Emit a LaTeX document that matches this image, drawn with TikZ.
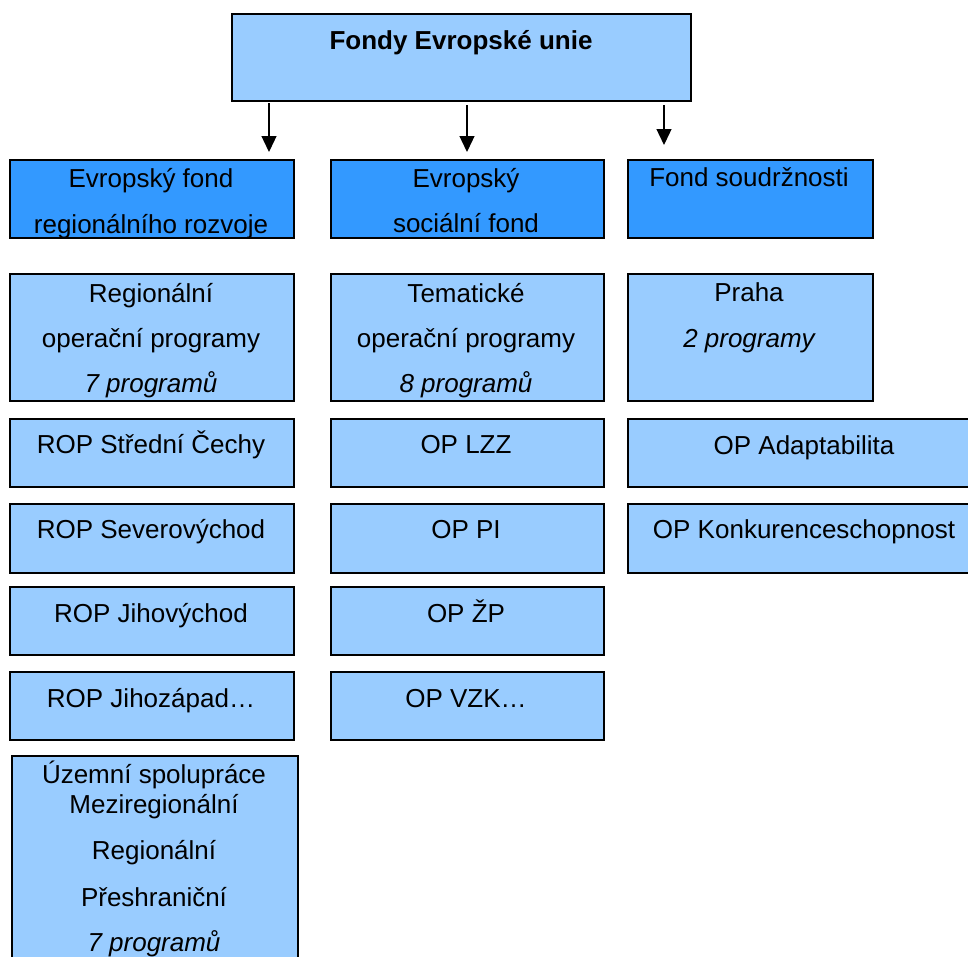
\documentclass[tikz,border=0pt]{standalone}
\usepackage{fontspec}
\setmainfont{Liberation Sans}
\usetikzlibrary{arrows.meta}
\definecolor{fundblue}{HTML}{3399FF}
\definecolor{progblue}{HTML}{99CCFF}
\tikzset{
  fund/.style={draw, fill=fundblue, line width=1.5pt, anchor=north west, inner sep=0pt},
  prog/.style={draw, fill=progblue, line width=1.5pt, anchor=north west, inner sep=0pt},
  txt/.style={anchor=base, inner sep=0pt, font=\fontsize{26}{30}\selectfont},
  arr/.style={line width=1.3pt, -{Triangle[width=15pt,length=16pt]}}
}
\begin{document}
\begin{tikzpicture}[x=1pt,y=-1pt]
  \clip (0,0) rectangle (968,956);
  % top level
  \node[prog, minimum width=459pt, minimum height=87pt] (eu) at (231,13) {};
  \node[txt] (eut) at (461,49) {\bfseries Fondy Evropské unie};
  % funds
  \node[fund, minimum width=284pt, minimum height=78pt] (erdf) at (9,159) {};
  \node[fund, minimum width=273pt, minimum height=78pt] (esf) at (330,159) {};
  \node[fund, minimum width=245pt, minimum height=78pt] (fs) at (627,159) {};
  % arrows
  \coordinate (a1) at (269,103); \coordinate (b1) at (269,152);
  \coordinate (a2) at (467,105); \coordinate (b2) at (467,152);
  \coordinate (a3) at (664,105); \coordinate (b3) at (664,145);
  \draw[arr] (a1) -- (b1);
  \draw[arr] (a2) -- (b2);
  \draw[arr] (a3) -- (b3);
  % programme groups
  \node[prog, minimum width=284pt, minimum height=127pt] (rop) at (9,273) {};
  \node[prog, minimum width=273pt, minimum height=127pt] (top) at (330,273) {};
  \node[prog, minimum width=245pt, minimum height=127pt] (praha) at (627,273) {};
  % single programmes
  \node[prog, minimum width=284pt, minimum height=68pt] (rop1) at (9,418) {};
  \node[prog, minimum width=284pt, minimum height=69pt] (rop2) at (9,503) {};
  \node[prog, minimum width=284pt, minimum height=68pt] (rop3) at (9,586) {};
  \node[prog, minimum width=284pt, minimum height=68pt] (rop4) at (9,671) {};
  \node[prog, minimum width=286pt, minimum height=220pt] (uzs) at (11,755) {};
  \node[prog, minimum width=273pt, minimum height=68pt] (oplzz) at (330,418) {};
  \node[prog, minimum width=273pt, minimum height=69pt] (oppi) at (330,503) {};
  \node[prog, minimum width=273pt, minimum height=68pt] (opzp) at (330,586) {};
  \node[prog, minimum width=273pt, minimum height=68pt] (opvzk) at (330,671) {};
  \node[prog, minimum width=354pt, minimum height=68pt] (opa) at (627,418) {};
  \node[prog, minimum width=354pt, minimum height=69pt] (opk) at (627,503) {};
  % texts
  \begin{scope}
    \clip (erdf.north west) rectangle (erdf.south east);
    \node[txt] (erdf1) at (151,187) {Evropský fond};
    \node[txt] (erdf2) at (151,233) {regionálního rozvoje};
  \end{scope}
  \node[txt] (esf1) at (466,187) {Evropský};
  \node[txt] (esf2) at (466,232) {sociální fond};
  \node[txt] (fs1) at (749,186) {Fond soudržnosti};
  \begin{scope}
    \clip (rop.north west) rectangle (rop.south east);
    \node[txt] (rop01) at (151,302) {Regionální};
    \node[txt] (rop02) at (151,347) {operační programy};
    \node[txt] (rop03) at (151,392) {\itshape 7 programů};
  \end{scope}
  \begin{scope}
    \clip (top.north west) rectangle (top.south east);
    \node[txt] (top1) at (466,302) {Tematické};
    \node[txt] (top2) at (466,347) {operační programy};
    \node[txt] (top3) at (466,392) {\itshape 8 programů};
  \end{scope}
  \node[txt] (praha1) at (749,301) {Praha};
  \node[txt] (praha2) at (749,347) {\itshape 2 programy};
  \node[txt] (rop1t) at (151,453) {ROP Střední Čechy};
  \node[txt] (rop2t) at (151,538) {ROP Severovýchod};
  \node[txt] (rop3t) at (151,622) {ROP Jihovýchod};
  \node[txt] (rop4t) at (151,707) {ROP Jihozápad…};
  \node[txt] (oplzzt) at (466,453) {OP LZZ};
  \node[txt] (oppit) at (466,538) {OP PI};
  \node[txt] (opzpt) at (466,622) {OP ŽP};
  \node[txt] (opvzkt) at (466,707) {OP VZK…};
  \node[txt] (opat) at (804,454) {OP Adaptabilita};
  \node[txt] (opkt) at (804,538) {OP Konkurenceschopnost};
  \node[txt] (uzs1) at (154,783) {Územní spolupráce};
  \node[txt] (uzs2) at (154,813) {Meziregionální};
  \node[txt] (uzs3) at (154,859) {Regionální};
  \node[txt] (uzs4) at (154,906) {Přeshraniční};
  \node[txt] (uzs5) at (154,951) {\itshape 7 programů};
\end{tikzpicture}
\end{document}
